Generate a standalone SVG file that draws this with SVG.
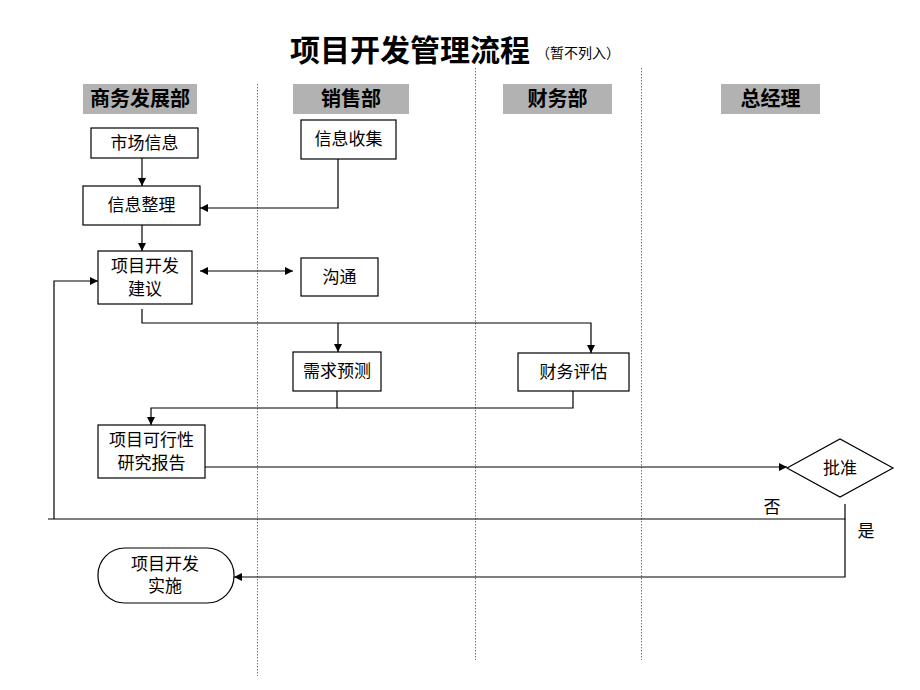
<svg xmlns="http://www.w3.org/2000/svg" width="920" height="690" viewBox="0 0 920 690">
<defs>
<style>
.lane{stroke:#777;stroke-width:1;stroke-dasharray:1.5 1.5;fill:none}
.hdr rect{fill:#b2b2b2}
.hdr text{font-family:"Liberation Sans","Noto Sans CJK SC",sans-serif;font-size:20px;font-weight:bold;fill:#000;text-anchor:middle}
.node rect,.node path,.node polygon{fill:#fff;stroke:#000;stroke-width:1.2}
.node text,.lbl{font-family:"Liberation Sans","Noto Sans CJK SC",sans-serif;font-size:17px;fill:#000;text-anchor:middle}
.conn{stroke:#000;stroke-width:1.2;fill:none}
</style>
<marker id="ar" viewBox="0 0 10 10" refX="10" refY="5" markerWidth="8" markerHeight="8" markerUnits="userSpaceOnUse" orient="auto-start-reverse">
<path d="M0,0 L10,5 L0,10 z" fill="#000"/>
</marker>
</defs>
<rect width="920" height="690" fill="#fff"/>
<text x="410" y="61" font-family="Liberation Sans,'Noto Sans CJK SC',sans-serif" font-size="30" font-weight="bold" text-anchor="middle">项目开发管理流程</text>
<text x="578" y="58" font-family="Liberation Sans,'Noto Sans CJK SC',sans-serif" font-size="14" text-anchor="middle">（暂不列入）</text>
<g id="lanes">
<line class="lane" x1="257.500" y1="84" x2="257.500" y2="676"/>
<line class="lane" x1="475.500" y1="68" x2="475.500" y2="660"/>
<line class="lane" x1="641.500" y1="68" x2="641.500" y2="660"/>
</g>
<g id="hdr-bd" class="hdr"><rect x="83" y="84" width="114" height="30"/><text x="140" y="106">商务发展部</text></g>
<g id="hdr-sales" class="hdr"><rect x="293" y="84" width="116" height="30"/><text x="351" y="106">销售部</text></g>
<g id="hdr-fin" class="hdr"><rect x="503" y="84" width="109" height="30"/><text x="557.500" y="106">财务部</text></g>
<g id="hdr-gm" class="hdr"><rect x="721" y="84" width="99" height="30"/><text x="770.500" y="106">总经理</text></g>
<g id="n-market" class="node"><rect x="91" y="128" width="107" height="30"/><text x="144.500" y="149">市场信息</text></g>
<g id="n-collect" class="node"><rect x="301" y="120" width="95" height="39"/><text x="348.500" y="145">信息收集</text></g>
<g id="n-sort" class="node"><rect x="83" y="186" width="117" height="39"/><text x="141.500" y="211">信息整理</text></g>
<g id="n-proposal" class="node"><rect x="98" y="251" width="94" height="53"/><text x="145" y="272">项目开发</text><text x="145" y="295">建议</text></g>
<g id="n-comm" class="node"><rect x="301" y="258" width="77" height="38"/><text x="339.500" y="283">沟通</text></g>
<g id="n-demand" class="node"><rect x="293" y="352" width="88" height="39"/><text x="337" y="377">需求预测</text></g>
<g id="n-fineval" class="node"><rect x="518" y="353" width="111" height="38"/><text x="573.500" y="378">财务评估</text></g>
<g id="n-report" class="node"><rect x="98" y="425" width="107" height="53"/><text x="151.500" y="446">项目可行性</text><text x="151.500" y="469">研究报告</text></g>
<g id="n-approve" class="node"><polygon points="787,468 840,439 893,468 840,497"/><text x="840" y="474">批准</text></g>
<g id="n-impl" class="node"><rect x="98" y="548" width="136" height="55" rx="27" ry="27"/><text x="165" y="570">项目开发</text><text x="165" y="592">实施</text></g>
<g id="connectors">
<path class="conn" d="M142,158 V186" marker-end="url(#ar)"/>
<path class="conn" d="M338,159 V208 H200" marker-end="url(#ar)"/>
<path class="conn" d="M142,225 V251" marker-end="url(#ar)"/>
<path class="conn" d="M200,271 H293" marker-start="url(#ar)" marker-end="url(#ar)"/>
<path class="conn" d="M142,309 V323 H591 V353"  marker-end="url(#ar)"/>
<path class="conn" d="M338,323 V352" marker-end="url(#ar)"/>
<path class="conn" d="M337,391 V408 H151 V425" marker-end="url(#ar)"/>
<path class="conn" d="M573,391 V408 H337"/>
<path class="conn" d="M205,467 H787" marker-end="url(#ar)"/>
<path class="conn" d="M845,504 V519 H48"/>
<path class="conn" d="M54,519 V281 H98" marker-end="url(#ar)"/>
<path class="conn" d="M845,519 V577 H234" marker-end="url(#ar)"/>
<text class="lbl" x="772" y="513">否</text>
<text class="lbl" x="866" y="537">是</text>
</g>
</svg>
